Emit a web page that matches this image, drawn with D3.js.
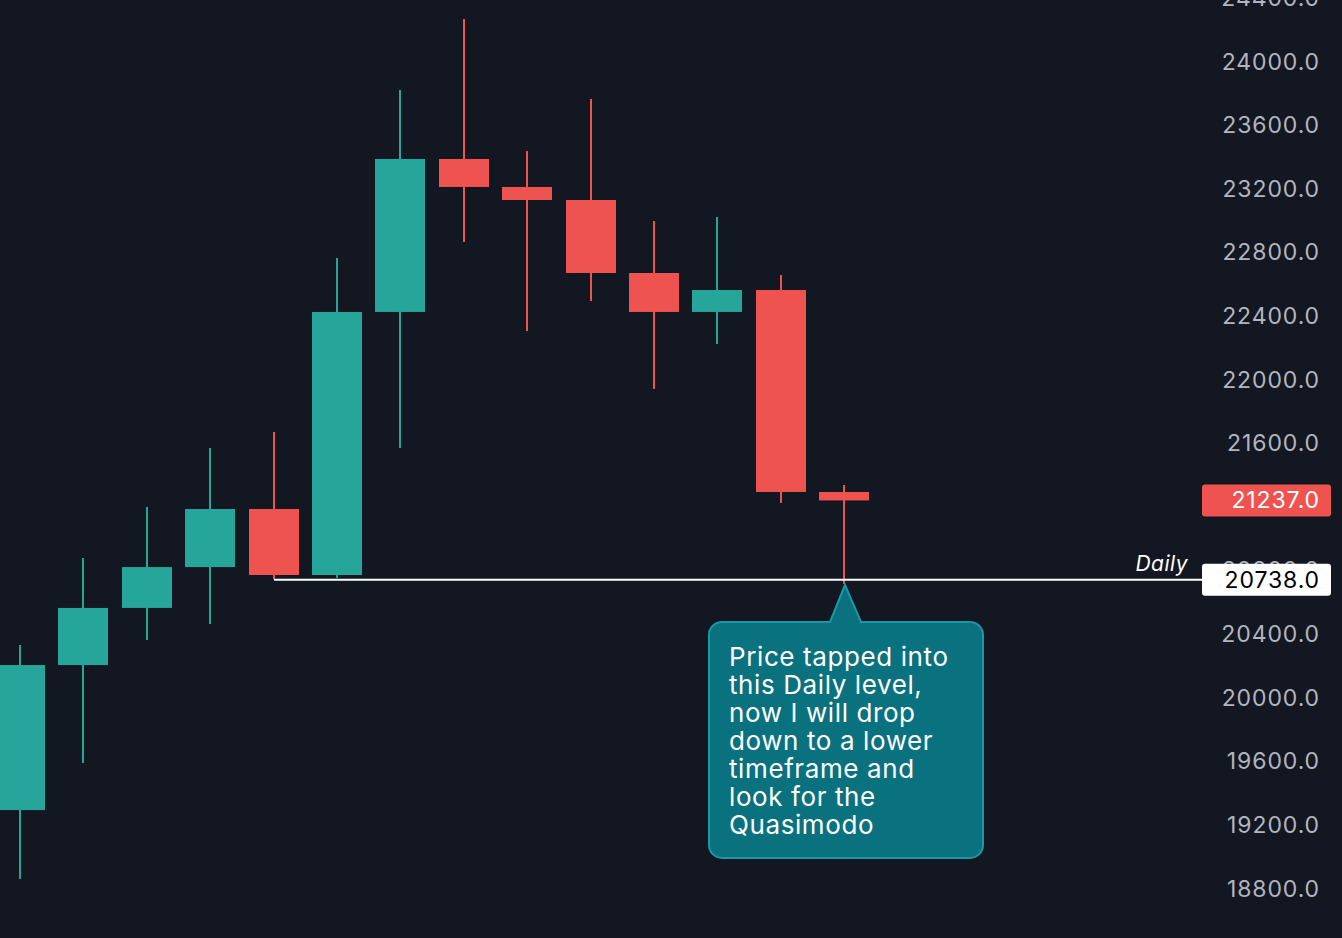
<!DOCTYPE html>
<html><head><meta charset="utf-8">
<script src="https://cdn.jsdelivr.net/npm/d3@7"></script>
<style>
html,body{margin:0;padding:0;background:#131722;}
svg{display:block;font-family:Inter,"Noto Sans",sans-serif;}
</style></head>
<body><svg id="c" width="1342" height="938"></svg>
<script>
const candleIndex = [0,1,2,3,4,5,6,7,8,9,10,11,12,13];
const opens  = [19290,20202,20561,20818,21183,20768,22422,23384,23208,23126,22667,22422,22560,21290];
const highs  = [20328,20875,21196,21567,21667,22761,23818,24264,23434,23761,22994,23019,22654,21334];
const lows   = [18857,19586,20359,20460,20741,20750,21567,22862,22302,22491,21938,22221,21221,20712];
const closes = [20202,20561,20818,21183,20768,22422,23384,23208,23126,22667,22422,22560,21290,21237];
const tickValues = [18800,19200,19600,20000,20400,20800,21200,21600,22000,22400,22800,23200,23600,24000,24400];
const lastPrice = 21237;
const levelPrice = 20738;
const levelLabel = "Daily";
const levelStartIndex = 4;
const noteIndex = 13;
const noteLines = ["Price tapped into","this Daily level,","now I will drop","down to a lower","timeframe and","look for the","Quasimodo"];

const W = 1342, H = 938;
const UP = "#26a69a", DOWN = "#ef5350";
const svg = d3.select("#c");
svg.append("rect").attr("width",W).attr("height",H).attr("fill","#131722");

const y = d3.scaleLinear().domain([18485.6, 24383.6]).range([H, 0]);
const x = d3.scaleLinear().domain([0, 13]).range([20, 844.2]);
const bodyW = 50;

const candles = candleIndex.map(i => ({i, o:opens[i], h:highs[i], l:lows[i], c:closes[i]}));

// axis
const axisG = svg.append("g").attr("transform","translate(1320,0)")
  .call(d3.axisRight(y).tickValues(tickValues).tickSize(0).tickPadding(0).tickFormat(d3.format(".1f")));
axisG.select(".domain").remove();
axisG.selectAll("text").attr("text-anchor","end").attr("x",0).attr("dy","0.35em")
  .attr("fill","#b2b5be").attr("font-size",23).attr("letter-spacing","0.9px")
  .attr("font-family","Inter,'Noto Sans',sans-serif");

// candles
const g = svg.append("g");
g.selectAll("rect.wick").data(candles).join("rect").attr("class","wick")
  .attr("x", d => Math.round(x(d.i)) - 1).attr("width", 2)
  .attr("y", d => y(d.h)).attr("height", d => y(d.l) - y(d.h))
  .attr("fill", d => d.c >= d.o ? UP : DOWN);
g.selectAll("rect.body").data(candles).join("rect").attr("class","body")
  .attr("x", d => Math.round(x(d.i)) - bodyW/2).attr("width", bodyW)
  .attr("y", d => y(Math.max(d.o,d.c)))
  .attr("height", d => Math.max(1, Math.abs(y(d.o) - y(d.c))))
  .attr("fill", d => d.c >= d.o ? UP : DOWN);

// level line
const labelX = 1202, labelW = 129, labelH = 32;
svg.append("line").attr("x1", Math.round(x(levelStartIndex))).attr("x2", labelX)
  .attr("y1", y(levelPrice)).attr("y2", y(levelPrice))
  .attr("stroke","#ffffff").attr("stroke-width",2);
svg.append("text").attr("x",1188).attr("y", y(levelPrice) - 9)
  .attr("text-anchor","end").attr("fill","#ffffff").attr("font-size",21)
  .attr("font-style","italic").attr("letter-spacing","0.5px").text(levelLabel);

// price labels
function priceLabel(v, fill, textFill){
  svg.append("rect").attr("x",labelX).attr("y", y(v) - labelH/2).attr("width",labelW).attr("height",labelH)
    .attr("rx",3).attr("fill",fill);
  svg.append("text").attr("x",1320).attr("y",y(v)).attr("dy","0.35em").attr("text-anchor","end")
    .attr("fill",textFill).attr("font-size",23).attr("letter-spacing","0.9px").text(d3.format(".1f")(v));
}
priceLabel(lastPrice, DOWN, "#ffffff");
priceLabel(levelPrice, "#ffffff", "#000000");

// callout
const ax = Math.round(x(noteIndex)) + 1, ay = y(lows[noteIndex]);
const bx0 = ax - 136, bx1 = ax + 138, by0 = ay + 38, by1 = ay + 274, r = 13;
const p = d3.path();
p.moveTo(bx0 + r, by0);
p.lineTo(ax - 15, by0);
p.lineTo(ax, ay + 1);
p.lineTo(ax + 16, by0);
p.lineTo(bx1 - r, by0);
p.arcTo(bx1, by0, bx1, by0 + r, r);
p.lineTo(bx1, by1 - r);
p.arcTo(bx1, by1, bx1 - r, by1, r);
p.lineTo(bx0 + r, by1);
p.arcTo(bx0, by1, bx0, by1 - r, r);
p.lineTo(bx0, by0 + r);
p.arcTo(bx0, by0, bx0 + r, by0, r);
p.closePath();
svg.append("path").attr("d", p.toString()).attr("fill","#0a717f").attr("stroke","#1b97a5").attr("stroke-width",2);
const t = svg.append("text").attr("fill","#ffffff").attr("font-size",26).attr("letter-spacing","0.6px");
noteLines.forEach((s, k) => {
  t.append("tspan").attr("x", bx0 + 20).attr("y", by0 + 44 + k*28).text(s);
});
</script></body></html>
